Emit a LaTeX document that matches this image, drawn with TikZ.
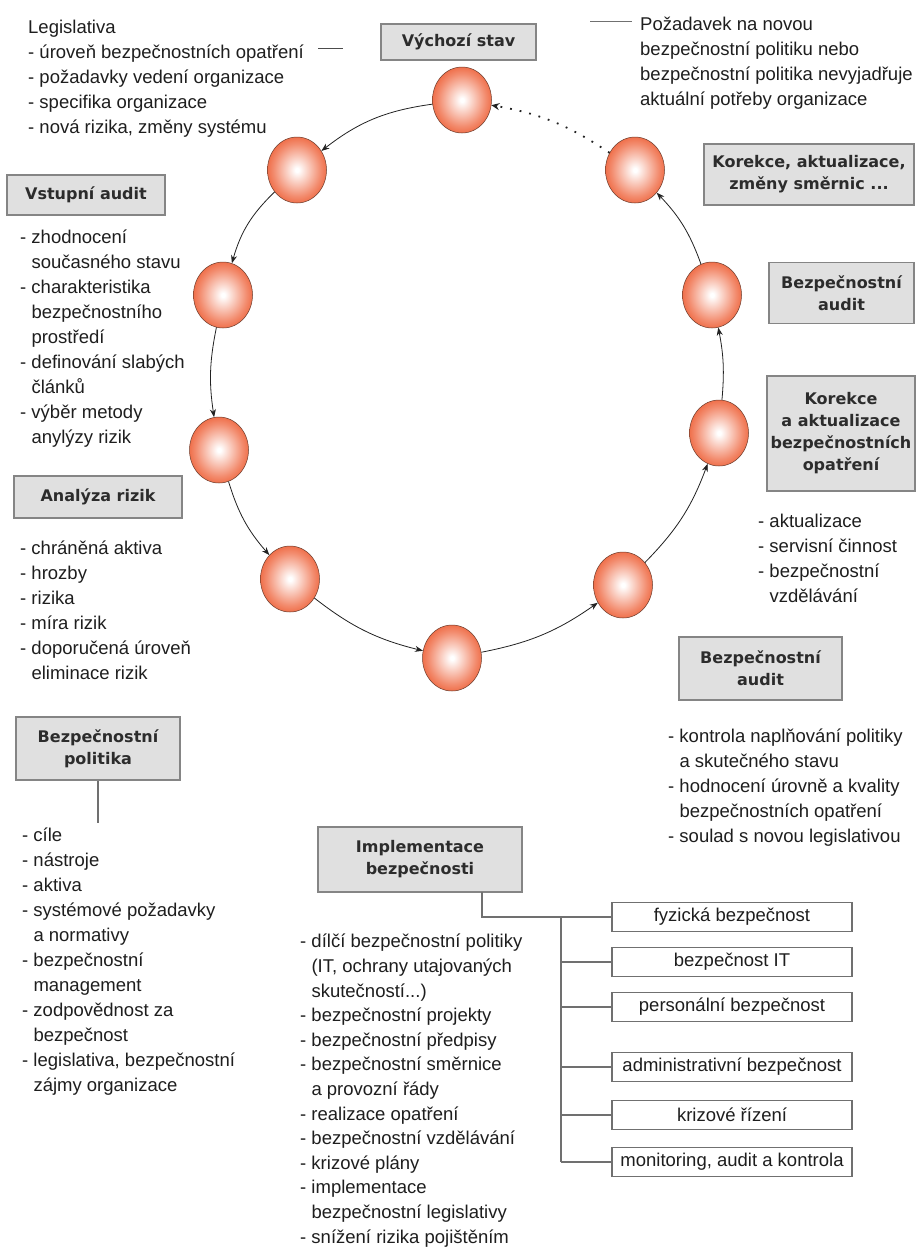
\documentclass[tikz,border=0pt]{standalone}
\usepackage{fontspec}
\setmainfont{Liberation Sans}
\newfontfamily\boxfamily{DejaVu Sans}
\usetikzlibrary{shapes.geometric,arrows.meta}
\definecolor{ballorange}{HTML}{EF6B45}
\definecolor{ballline}{HTML}{6A3A2A}
\definecolor{boxfill}{HTML}{E0E0E0}
\definecolor{boxline}{HTML}{858585}
\definecolor{boxtxt}{HTML}{2C2C2C}
\definecolor{txt}{HTML}{1E1E1E}
\definecolor{arr}{HTML}{222222}
\definecolor{treeline}{HTML}{707070}
\pgfdeclareradialshading{ballshade}{\pgfpoint{0bp}{0bp}}{color(0bp)=(white); color(1.5bp)=(white); color(11bp)=(ballorange!40!white); color(20bp)=(ballorange!78!white); color(26bp)=(ballorange); color(50bp)=(ballorange)}
\newcommand{\ind}{\hphantom{- }}
\begin{document}
\begin{tikzpicture}[x=1pt,y=-1pt,
  ball/.style={ellipse, minimum width=59pt, minimum height=66pt, inner sep=0pt, draw=ballline, line width=0.5pt, shading=ballshade},
  conn/.style={draw=arr, line width=0.8pt, -{Stealth[length=8pt,width=6pt]}},
  dotconn/.style={draw=arr, line width=1.8pt, dash pattern=on 1.8pt off 8pt, -{Stealth[length=8pt,width=7pt]}},
  lbox/.style={draw=boxline, line width=1.4pt, fill=boxfill, inner sep=0pt, align=center, text=boxtxt, font=\boxfamily\bfseries\fontsize{16}{22}\selectfont},
  tbox/.style={draw=treeline, line width=1.3pt, fill=white, inner sep=0pt, minimum width=240pt, minimum height=29pt, text=txt, font=\fontsize{18.5}{22}\selectfont},
  lst/.style={anchor=base west, align=left, inner sep=0pt, text=txt, font=\fontsize{18.5}{25}\selectfont},
  tree/.style={draw=treeline, line width=1.3pt},
  thin/.style={draw=treeline, line width=1pt}
]
\fill[white] (0,0) rectangle (917,1248);
\useasboundingbox (0,0) rectangle (917,1248);

% balls
\node[ball] (b1) at (462,100) {};
\node[ball] (b2) at (297,170) {};
\node[ball] (b3) at (223,295) {};
\node[ball] (b4) at (219,450) {};
\node[ball] (b5) at (290,579) {};
\node[ball] (b6) at (452,658) {};
\node[ball] (b7) at (623,585) {};
\node[ball] (b8) at (719,433) {};
\node[ball] (b9) at (712,295) {};
\node[ball] (b10) at (635,170) {};

\draw[conn] (b1) to[bend right=15] (b2);
\draw[conn] (b2) to[bend right=15] (b3);
\draw[conn] (b3) to[bend right=10] (b4);
\draw[conn] (b4) to[bend right=12] (b5);
\draw[conn] (b5) to[bend right=12] (b6);
\draw[conn] (b6) to[bend right=12] (b7);
\draw[conn] (b7) to[bend right=12] (b8);
\draw[conn] (b8) to[bend right=8] (b9);
\draw[conn] (b9) to[bend right=12] (b10);
\draw[dotconn] (b10) to[bend right=12] (b1);

% label boxes
\node[lbox, minimum width=155pt, minimum height=36pt] (vych) at (458.5,42) {Výchozí stav};
\node[lbox, minimum width=158pt, minimum height=40pt] (vst) at (86,195) {Vstupní audit};
\node[lbox, minimum width=168pt, minimum height=42pt] (anal) at (98,497) {Analýza rizik};
\node[lbox, minimum width=164pt, minimum height=63pt] (bpol) at (98,748.5) {Bezpečnostní\\politika};
\node[lbox, minimum width=204pt, minimum height=65pt] (impl) at (420,859.5) {Implementace\\bezpečnosti};
\node[lbox, minimum width=163pt, minimum height=63pt] (aud2) at (760.5,668.5) {Bezpečnostní\\audit};
\node[lbox, minimum width=148pt, minimum height=115pt] (kor2) at (841,433.5) {Korekce\\a aktualizace\\bezpečnostních\\opatření};
\node[lbox, minimum width=145pt, minimum height=61pt] (aud1) at (841.5,293) {Bezpečnostní\\audit};
\node[lbox, minimum width=210pt, minimum height=61pt] (kor1) at (809,174.5) {Korekce, aktualizace,\\změny směrnic ...};

% text lists (anchor = baseline of last line)
\node[lst] (leg) at (28,133) {Legislativa\\- úroveň bezpečnostních opatření\\- požadavky vedení organizace\\- specifika organizace\\- nová rizika, změny systému};
\node[lst] (poz) at (640,105) {Požadavek na novou\\bezpečnostní politiku nebo\\bezpečnostní politika nevyjadřuje\\aktuální potřeby organizace};
\node[lst] (vstl) at (20,443) {- zhodnocení\\\ind současného stavu\\- charakteristika\\\ind bezpečnostního\\\ind prostředí\\- definování slabých\\\ind článků\\- výběr metody\\\ind anylýzy rizik};
\node[lst] (anl) at (20,679) {- chráněná aktiva\\- hrozby\\- rizika\\- míra rizik\\- doporučená úroveň\\\ind eliminace rizik};
\node[lst] (bpl) at (22,1091) {- cíle\\- nástroje\\- aktiva\\- systémové požadavky\\\ind a normativy\\- bezpečnostní\\\ind management\\- zodpovědnost za\\\ind bezpečnost\\- legislativa, bezpečnostní\\\ind zájmy organizace};
\node[lst] (korl) at (758,602) {- aktualizace\\- servisní činnost\\- bezpečnostní\\\ind vzdělávání};
\node[lst] (audl) at (668,842) {- kontrola naplňování politiky\\\ind a skutečného stavu\\- hodnocení úrovně a kvality\\\ind bezpečnostních opatření\\- soulad s novou legislativou};
\node[lst, font=\fontsize{18.5}{24.6}\selectfont] (impll) at (300,1243) {- dílčí bezpečnostní politiky\\\ind (IT, ochrany utajovaných\\\ind skutečností...)\\- bezpečnostní projekty\\- bezpečnostní předpisy\\- bezpečnostní směrnice\\\ind a provozní řády\\- realizace opatření\\- bezpečnostní vzdělávání\\- krizové plány\\- implementace\\\ind bezpečnostní legislativy\\- snížení rizika pojištěním};

% short lines
\coordinate (la) at (318,48);
\coordinate (lb) at (343,48);
\draw[thin, draw=black!70] (la) -- (lb);
\coordinate (ra) at (590,21);
\coordinate (rb) at (632,21);
\draw[thin] (ra) -- (rb);
\coordinate (plend) at (98,823);
\draw[tree] (bpol.south) -- (plend);

% tree
\node[tbox] (t1) at (732,917) {fyzická bezpečnost};
\node[tbox] (t2) at (732,962) {bezpečnost IT};
\node[tbox] (t3) at (732,1007) {personální bezpečnost};
\node[tbox] (t4) at (732,1067) {administrativní bezpečnost};
\node[tbox] (t5) at (732,1115) {krizové řízení};
\node[tbox] (t6) at (732,1162) {monitoring, audit a kontrola};
\coordinate (ib) at (482,892);
\coordinate (trunk) at (561,917);
\draw[tree] (ib) |- (t1.west);
\draw[tree] (t1.west -| trunk) -- (t6.west -| trunk);
\foreach \i in {2,...,6} {\draw[tree] (t\i.west -| trunk) -- (t\i.west);}
\end{tikzpicture}
\end{document}
